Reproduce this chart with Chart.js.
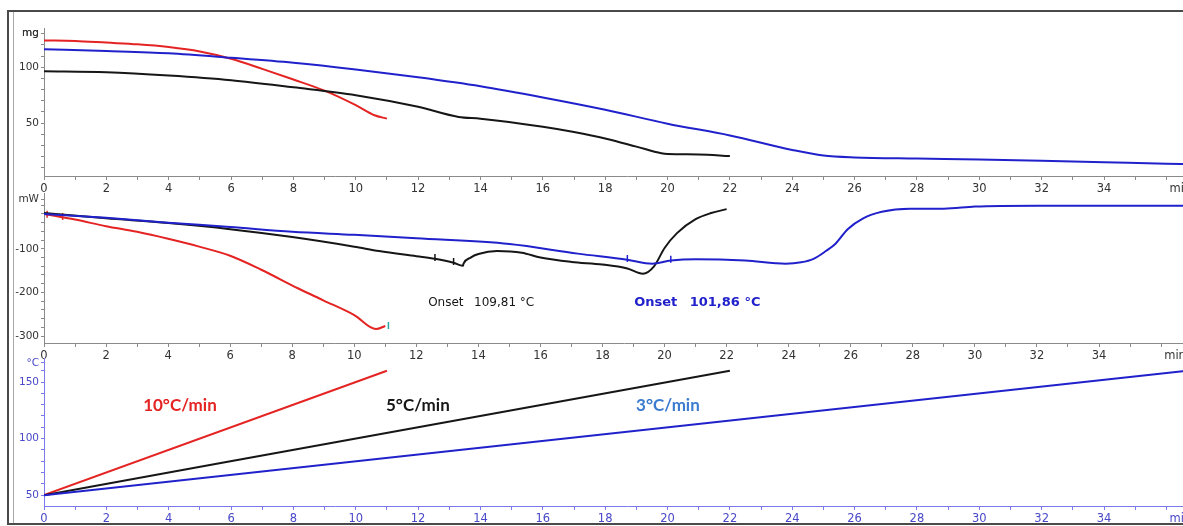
<!DOCTYPE html>
<html>
<head>
<meta charset="utf-8">
<title>TG / DSC / T – heating rates</title>
<script src="https://cdn.jsdelivr.net/npm/chart.js@4.4.1/dist/chart.umd.min.js"></script>
<style>
  html, body { margin: 0; padding: 0; background: #fff; width: 1183px; height: 526px; overflow: hidden; }
  .frame { position: absolute; left: 7px; top: 10px; width: 1300px; height: 511px; border: 2px solid #4a4a4a; }
  .frame-inner { position: absolute; left: 13px; top: 12px; height: 511px; border-left: 1px solid #a8a8a8; }
  .panel { position: absolute; left: 0; }
  .panel canvas { display: block; }
</style>
</head>
<body>
<div class="frame"></div>
<div class="frame-inner"></div>
<div class="panel" style="top:20px"><canvas id="tgChart" width="1210" height="180"></canvas></div>
<div class="panel" style="top:185px"><canvas id="dscChart" width="1210" height="180"></canvas></div>
<div class="panel" style="top:350px"><canvas id="tempChart" width="1210" height="176"></canvas></div>

<script>
  'use strict';

  /* ---------- time axis (min) ---------- */
  const timeTicks = [0, 1, 2, 3, 4, 5, 6, 7, 8, 9, 10, 11, 12, 13, 14, 15, 16, 17, 18,
                     19, 20, 21, 22, 23, 24, 25, 26, 27, 28, 29, 30, 31, 32, 33, 34, 35, 36, 37];
  const timeLabels = [0, 2, 4, 6, 8, 10, 12, 14, 16, 18, 20, 22, 24, 26, 28, 30, 32, 34];
  const timeUnit = 'min';
  const timeUnitAt = 36.45;
  const timeMax = 37.4;

  /* ---------- TG panel (mg) ---------- */
  const tgTicks = [10, 20, 30, 40, 50, 60, 70, 80, 90, 100, 110, 120, 130];
  const tgLabels = [50, 100];
  const tgUnit = 'mg';
  const tgUnitAt = 130;

  const tg10 = [[0, 124], [1, 123.5], [2, 122], [3, 120.5], [4, 118], [5, 114], [6, 107.5],
                [7, 98.5], [8, 89], [9, 79], [10, 66], [10.6, 57], [11, 54]];
  const tg5 = [[0, 96.4], [2, 95.5], [4, 92.6], [6, 88.4], [8, 82], [10, 75], [12, 64.6],
               [13.3, 55.5], [14, 54], [16, 46.7], [17, 42], [18, 36.3], [19, 29], [19.8, 23],
               [20, 22.3], [21, 22], [22, 20.5]];
  const tg3 = [[0, 116], [2, 114.5], [4, 112.5], [6, 108.5], [8, 104], [10, 98], [12, 91],
               [14, 83], [16, 73], [18, 62], [20, 49.5], [22, 39], [24, 26], [25, 21],
               [26, 19.3], [28, 18.3], [30, 17.5], [32, 16.3], [34, 15], [36, 13.6], [37.4, 13]];

  /* ---------- DSC panel (mW) ---------- */
  const dscTicks = [-300, -280, -260, -240, -220, -200, -180, -160, -140, -120, -100,
                    -80, -60, -40, -20, 0];
  const dscLabels = [-300, -200, -100];
  const dscUnit = 'mW';
  const dscUnitAt = 14;

  const dsc10 = [[0, -20], [1, -33], [2, -48], [3, -61], [4, -77], [5, -95], [6, -116],
                 [7, -148], [8.2, -191], [9, -218], [10, -252], [10.7, -284], [11, -277]];
  const dsc5 = [[0, -18], [2, -30], [4, -41], [6, -55], [8, -73], [10, -95], [10.8, -105],
                [12, -117], [12.6, -123], [13.2, -132], [13.5, -139], [13.52, -134], [13.75, -120],
                [14, -112], [14.6, -105], [15.4, -109], [16, -120], [17, -130], [18, -136],
                [18.8, -145], [19.3, -157], [19.66, -140], [20, -98], [20.4, -64], [21, -32],
                [21.5, -18], [22, -9]];
  const dsc3 = [[0, -20], [2, -29], [4, -40], [6, -50], [8, -61], [10, -68], [12, -76],
                [15, -89], [17.2, -111], [18.8, -125], [19.6, -134], [20.2, -127], [21, -124],
                [22.6, -127], [23.9, -134], [24.4, -131], [24.8, -123], [25.2, -105], [25.5, -89],
                [25.9, -55], [26.4, -30], [27, -15], [27.9, -8], [29, -8], [30, -3], [32, -1],
                [34, -1], [37.4, -1]];
  // evaluation limit marks on the DSC curves
  const dsc10Marks = [[0.1, -21], [0.6, -26]];
  const dsc10End = [[11.1, -276]];
  const dsc5Marks = [[12.6, -120], [13.2, -129]];
  const dsc3Marks = [[18.8, -122], [20.2, -124]];
  const onset5 = ['Onset', '109,81 °C'];
  const onset3 = ['Onset', '101,86 °C'];

  /* ---------- temperature panel (°C) ---------- */
  const tempTicks = [50, 60, 70, 80, 90, 100, 110, 120, 130, 140, 150, 160];
  const tempLabels = [50, 100, 150];
  const tempUnit = '°C';
  const tempUnitAt = 167;

  const temp10 = [[0, 50], [11, 160]];
  const temp5 = [[0, 50], [22, 160]];
  const temp3 = [[0, 50], [36.67, 160]];
  const rateNames = ['10°C/min', '5°C/min', '3°C/min'];

  /* ---------- shared look ---------- */
  const RED = '#e42323';
  const BLACK = '#161616';
  const BLUE = '#2121cc';
  const GREY_AXIS = '#8a8a8a';
  const GREY_TEXT = '#333';
  const BLUE_AXIS = '#7a7aee';
  const BLUE_TEXT = '#4848c8';

  Chart.defaults.font.family = '"DejaVu Sans", Verdana, sans-serif';
  Chart.defaults.animation = false;

  const pts = arr => arr.map(([x, y]) => ({ x, y }));

  const curve = (data, color) => ({
    data: pts(data),
    borderColor: color,
    borderWidth: 2,
    pointRadius: 0,
    cubicInterpolationMode: 'monotone',
    fill: false
  });

  const marks = (data, color) => ({
    data: pts(data),
    showLine: false,
    pointStyle: 'line',
    rotation: 90,
    pointRadius: 3.5,
    borderColor: color,
    borderWidth: 1.5
  });

  // text placed in data coordinates
  const notesPlugin = {
    id: 'notes',
    afterDatasetsDraw(chart, args, opts) {
      const { ctx, scales } = chart;
      (opts.items || []).forEach(n => {
        ctx.save();
        ctx.font = n.font;
        ctx.fillStyle = n.color;
        ctx.textAlign = 'left';
        ctx.textBaseline = 'middle';
        ctx.fillText(n.text, scales.x.getPixelForValue(n.x), scales.y.getPixelForValue(n.y));
        ctx.restore();
      });
    }
  };

  function makePanel(id, opts) {
    const axisColor = opts.axisColor;
    const textColor = opts.textColor;
    return new Chart(document.getElementById(id), {
      type: 'line',
      data: { datasets: opts.datasets },
      plugins: [notesPlugin],
      options: {
        responsive: false,
        layout: { padding: { top: opts.padTop, left: 0, right: 0, bottom: 0 } },
        plugins: {
          legend: { display: false },
          tooltip: { enabled: false },
          notes: { items: opts.notes || [] }
        },
        scales: {
          x: {
            type: 'linear',
            min: 0,
            max: timeMax,
            border: { color: axisColor, width: 1 },
            grid: {
              drawOnChartArea: false,
              tickLength: 4,
              color: axisColor,
              tickColor: c => (c.tick && c.tick.value === timeUnitAt ? 'rgba(0,0,0,0)' : axisColor)
            },
            ticks: {
              autoSkip: false,
              maxRotation: 0,
              padding: 2,
              color: textColor,
              font: { size: 11.5 },
              callback: v => (v === timeUnitAt ? timeUnit : timeLabels.includes(v) ? String(v) : '')
            },
            afterBuildTicks: s => { s.ticks = timeTicks.concat(timeUnitAt).map(v => ({ value: v })); },
            afterFit: s => { s.height = opts.xHeight; }
          },
          y: {
            type: 'linear',
            min: opts.yMin,
            max: opts.yMax,
            border: { color: axisColor, width: 1 },
            grid: { drawOnChartArea: false, tickLength: 3, color: axisColor },
            ticks: {
              autoSkip: false,
              padding: 2,
              color: textColor,
              font: { size: 10.5 },
              callback: v => (v === opts.unitAt ? opts.unit : opts.labels.includes(v) ? String(v) : '')
            },
            afterBuildTicks: s => { s.ticks = opts.ticks.concat(opts.unitAt).map(v => ({ value: v })); },
            afterFit: s => { s.width = 44; }
          }
        }
      }
    });
  }

  /* ---------- TG ---------- */
  makePanel('tgChart', {
    padTop: 8, xHeight: 24, yMin: 2.7, yMax: 134.8,
    ticks: tgTicks, labels: tgLabels, unit: tgUnit, unitAt: tgUnitAt,
    axisColor: GREY_AXIS, textColor: GREY_TEXT,
    datasets: [curve(tg3, BLUE), curve(tg5, BLACK), curve(tg10, RED)]
  });

  /* ---------- DSC ---------- */
  const boldBlue = 'bold 13px "DejaVu Sans", sans-serif';
  const plainBlack = '12px "DejaVu Sans", sans-serif';
  makePanel('dscChart', {
    padTop: 7, xHeight: 22, yMin: -315.9, yMax: 27.3,
    ticks: dscTicks, labels: dscLabels, unit: dscUnit, unitAt: dscUnitAt,
    axisColor: GREY_AXIS, textColor: GREY_TEXT,
    datasets: [
      curve(dsc3, BLUE), curve(dsc5, BLACK), curve(dsc10, RED),
      marks(dsc10Marks, RED), marks(dsc10End, '#2aa6a6'),
      marks(dsc5Marks, BLACK), marks(dsc3Marks, BLUE)
    ],
    notes: [
      { text: onset5[0], x: 12.38, y: -225, color: BLACK, font: plainBlack },
      { text: onset5[1], x: 13.86, y: -225, color: BLACK, font: plainBlack },
      { text: onset3[0], x: 19.02, y: -223, color: BLUE, font: boldBlue },
      { text: onset3[1], x: 20.81, y: -223, color: BLUE, font: boldBlue }
    ]
  });

  /* ---------- temperature program ---------- */
  const rateFont = 'bold 17px Lato, "Open Sans", sans-serif';
  makePanel('tempChart', {
    padTop: 7, xHeight: 20, yMin: 40.4, yMax: 171,
    ticks: tempTicks, labels: tempLabels, unit: tempUnit, unitAt: tempUnitAt,
    axisColor: BLUE_AXIS, textColor: BLUE_TEXT,
    datasets: [curve(temp3, BLUE), curve(temp5, BLACK), curve(temp10, RED)],
    notes: [
      { text: rateNames[0], x: 3.18, y: 129, color: RED, font: rateFont },
      { text: rateNames[1], x: 10.97, y: 129, color: BLACK, font: rateFont },
      { text: rateNames[2], x: 18.99, y: 129, color: '#3b7bd0', font: rateFont }
    ]
  });
</script>
</body>
</html>
